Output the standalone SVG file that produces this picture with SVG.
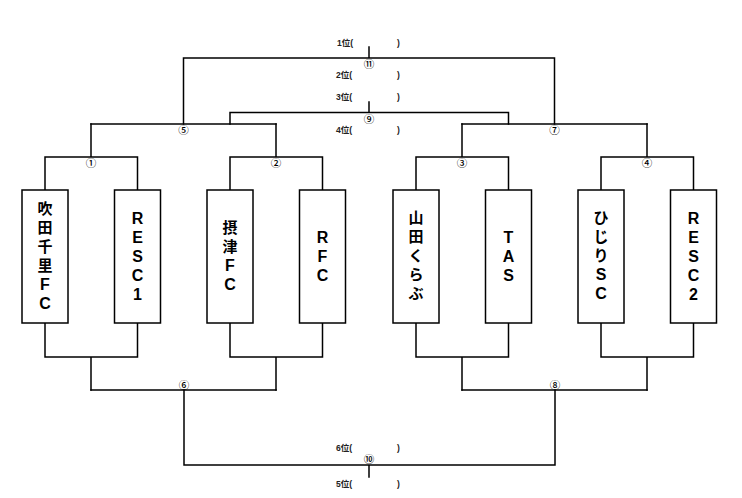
<svg xmlns="http://www.w3.org/2000/svg" width="742" height="498" viewBox="0 0 742 498">
<style>
.ln{stroke:#000;stroke-width:1.5;fill:none;stroke-linecap:square}
.box{fill:#fff;stroke:#000;stroke-width:1.5}
.nm{font-family:"Liberation Sans","Noto Sans CJK JP",sans-serif;font-weight:bold;font-size:15px;fill:#000;text-anchor:middle}
.l{font-size:16px}
.rk{font-family:"Liberation Sans","Noto Sans CJK JP",sans-serif;font-weight:bold;font-size:8.5px;fill:#222}
.cn{font-family:"Noto Sans CJK JP",sans-serif;font-size:10.5px;font-weight:500;fill:#000;text-anchor:middle}
</style>
<rect width="742" height="498" fill="#fff"/>
<g id="connectors">
<path class="ln" d="M45,190V157H137.5V190M91,157V124"/>
<path class="ln" d="M230,190V157H322.5V190M276,157V124"/>
<path class="ln" d="M416,190V157H508.5V190M462,157V124"/>
<path class="ln" d="M601,190V157H693.5V190M647,157V124"/>
<path class="ln" d="M91,124H276"/>
<path class="ln" d="M462,124H647"/>
<path class="ln" d="M183.5,124V58H554.5V124M369,58V47"/>
<path class="ln" d="M230,124V112.5H508.5V124M369,112.5V102"/>
<path class="ln" d="M45,323V357H137.5V323M91,357V390"/>
<path class="ln" d="M230,323V357H322.5V323M276,357V390"/>
<path class="ln" d="M416,323V357H508.5V323M462,357V390"/>
<path class="ln" d="M601,323V357H693.5V323M647,357V390"/>
<path class="ln" d="M91,390H276M462,390H647"/>
<path class="ln" d="M184,390V465H555V390M369,465V477"/>
</g>
<g id="n1"><rect class="box" x="22" y="190" width="46" height="133"/>
<text class="nm" x="45" y="213.5"><tspan x="45">吹</tspan><tspan x="45" dy="19">田</tspan><tspan x="45" dy="19">千</tspan><tspan x="45" dy="19">里</tspan><tspan class="l" x="45" dy="19">F</tspan><tspan class="l" x="45" dy="19">C</tspan></text></g>
<g id="n2"><rect class="box" x="114.5" y="190" width="46" height="133"/>
<text class="nm l" x="137.5" y="223.5"><tspan x="137.5">R</tspan><tspan x="137.5" dy="19">E</tspan><tspan x="137.5" dy="19">S</tspan><tspan x="137.5" dy="19">C</tspan><tspan x="137.5" dy="19">1</tspan></text></g>
<g id="n3"><rect class="box" x="207" y="190" width="46" height="133"/>
<text class="nm" x="230" y="233"><tspan x="230">摂</tspan><tspan x="230" dy="19">津</tspan><tspan class="l" x="230" dy="19">F</tspan><tspan class="l" x="230" dy="19">C</tspan></text></g>
<g id="n4"><rect class="box" x="299.5" y="190" width="46" height="133"/>
<text class="nm l" x="322.5" y="243"><tspan x="322.5">R</tspan><tspan x="322.5" dy="19">F</tspan><tspan x="322.5" dy="19">C</tspan></text></g>
<g id="n5"><rect class="box" x="393" y="190" width="46" height="133"/>
<text class="nm" x="416" y="223"><tspan x="416">山</tspan><tspan x="416" dy="19">田</tspan><tspan x="416" dy="19">く</tspan><tspan x="416" dy="19">ら</tspan><tspan x="416" dy="19">ぶ</tspan></text></g>
<g id="n6"><rect class="box" x="485.5" y="190" width="46" height="133"/>
<text class="nm l" x="508.5" y="243"><tspan x="508.5">T</tspan><tspan x="508.5" dy="19">A</tspan><tspan x="508.5" dy="19">S</tspan></text></g>
<g id="n7"><rect class="box" x="578" y="190" width="46" height="133"/>
<text class="nm" x="601" y="223"><tspan x="601">ひ</tspan><tspan x="601" dy="19">じ</tspan><tspan x="601" dy="19">り</tspan><tspan class="l" x="601" dy="19">S</tspan><tspan class="l" x="601" dy="19">C</tspan></text></g>
<g id="n8"><rect class="box" x="670.5" y="190" width="46" height="133"/>
<text class="nm l" x="693.5" y="223.5"><tspan x="693.5">R</tspan><tspan x="693.5" dy="19">E</tspan><tspan x="693.5" dy="19">S</tspan><tspan x="693.5" dy="19">C</tspan><tspan x="693.5" dy="19">2</tspan></text></g>
<g id="circles">
<text class="cn" x="91" y="166.5">①</text>
<text class="cn" x="276" y="166.5">②</text>
<text class="cn" x="462" y="166.5">③</text>
<text class="cn" x="647" y="166.5">④</text>
<text class="cn" x="183.5" y="133.5">⑤</text>
<text class="cn" x="184" y="388.5">⑥</text>
<text class="cn" x="554.5" y="133.5">⑦</text>
<text class="cn" x="555" y="388.5">⑧</text>
<text class="cn" x="369" y="122.5">⑨</text>
<text class="cn" x="369" y="463">⑩</text>
<text class="cn" x="369" y="67.5">⑪</text>
</g>
<g id="ranks">
<text class="rk" x="337" y="46">1位(<tspan x="397">)</tspan></text>
<text class="rk" x="336" y="77.5">2位(<tspan x="397">)</tspan></text>
<text class="rk" x="336" y="100">3位(<tspan x="397">)</tspan></text>
<text class="rk" x="336" y="132.5">4位(<tspan x="397">)</tspan></text>
<text class="rk" x="336" y="451">6位(<tspan x="397">)</tspan></text>
<text class="rk" x="336" y="487">5位(<tspan x="397">)</tspan></text>
</g>
</svg>
